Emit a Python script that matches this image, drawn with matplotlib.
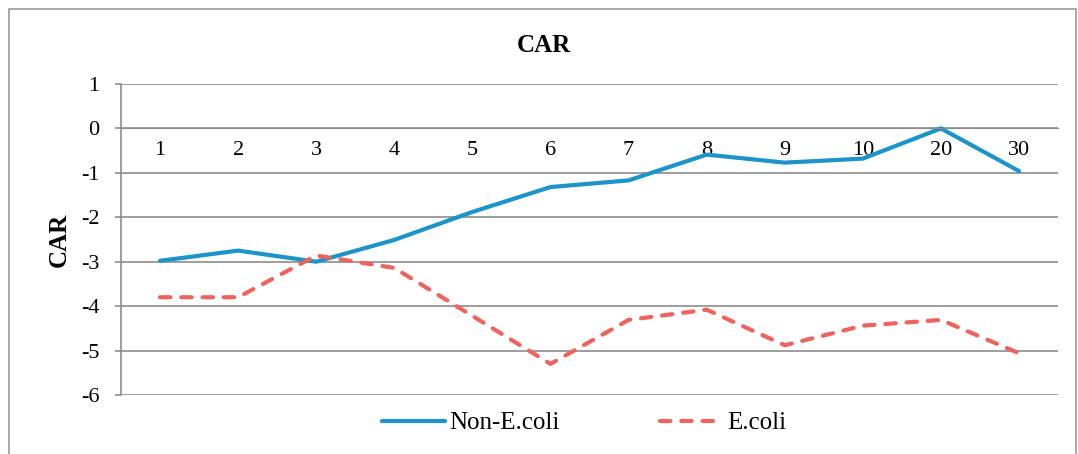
import matplotlib.pyplot as plt
from matplotlib.patches import Rectangle

# datos
categorias = ['1', '2', '3', '4', '5', '6', '7', '8', '9', '10', '20', '30']
non_ecoli = [-2.98, -2.75, -3.0, -2.51, -1.88, -1.32, -1.17, -0.59, -0.77, -0.68, 0.0, -0.96]
ecoli = [-3.8, -3.8, -2.86, -3.14, -4.22, -5.3, -4.31, -4.08, -4.88, -4.44, -4.31, -5.06]
y_ticks = [1, 0, -1, -2, -3, -4, -5, -6]

plt.rcParams['font.family'] = ['Liberation Serif', 'DejaVu Serif']

fig = plt.figure(figsize=(10.78, 4.54), dpi=100)
ax = fig.add_axes([0.1122, 0.130, 0.8693, 0.685])

x = list(range(len(categorias)))
ax.plot(x, non_ecoli, color='#1C93C9', lw=3.0, label='Non-E.coli', solid_capstyle='round')
ax.plot(x, ecoli, color='#EE635D', lw=3.0, ls=(0, (2.5, 2.6)), label='E.coli',
        dash_capstyle='round')

# eje x cruzando en 0
ax.spines['bottom'].set_position(('data', 0))
ax.spines['bottom'].set_color('#8c8c8c')
ax.spines['left'].set_color('#8c8c8c')
ax.spines['left'].set_linewidth(1.2)
ax.spines['top'].set_visible(False)
ax.spines['right'].set_visible(False)

ax.set_xlim(-0.5, len(categorias) - 0.5)
ax.set_ylim(-6, 1)
ax.set_yticks(y_ticks)
ax.set_yticklabels([str(v) for v in y_ticks])
ax.yaxis.grid(True, color='#8c8c8c', lw=1.2)
ax.set_axisbelow(True)
ax.set_xticks(x)
ax.set_xticklabels(categorias)
ax.tick_params(axis='x', length=0, pad=9, labelsize=16)
ax.tick_params(axis='y', length=4.3, width=1.2, color='#8c8c8c', pad=11, labelsize=16)

ax.set_ylabel('CAR', fontsize=18, fontweight='bold', labelpad=7.5)
fig.text(0.5045, 0.900, 'CAR', ha='center', va='center', fontsize=18, fontweight='bold')

fig.legend(loc='center', bbox_to_anchor=(0.542, 0.068), ncol=2, frameon=False,
           fontsize=18, handlelength=2.5, columnspacing=4.0, handletextpad=0.2)

# marco exterior
fig.patches.append(Rectangle((0.008, -0.02), 0.99, 1.0, transform=fig.transFigure,
                             fill=False, edgecolor='#999999', lw=1.2))

fig.savefig('out.png', dpi=100)
